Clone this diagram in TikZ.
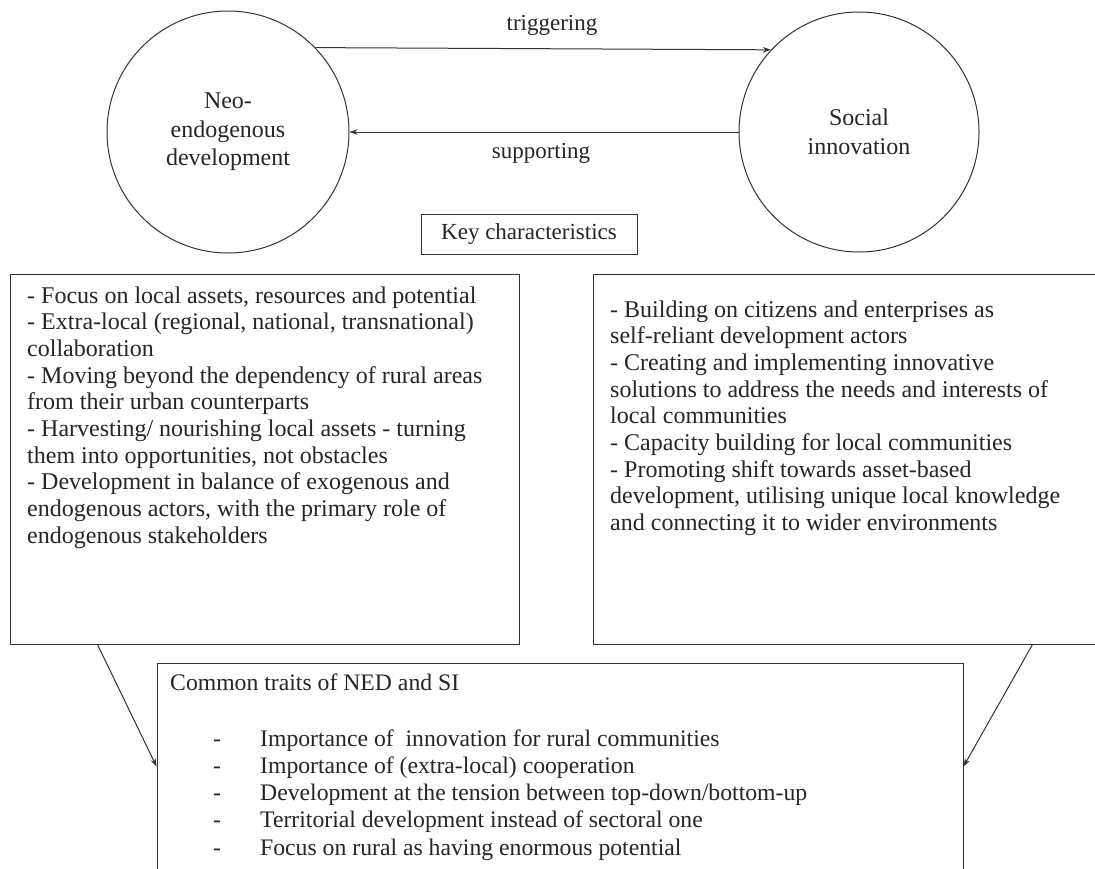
\documentclass[tikz,border=0pt]{standalone}
\usepackage{fontspec}
\setmainfont{Liberation Serif}
\usetikzlibrary{arrows.meta}
\newcommand{\blocktext}[4]{\parbox[t]{#1}{\fontsize{#2}{#3}\selectfont\raggedright #4}}
\begin{document}
\begin{tikzpicture}[x=1pt,y=-1pt,
  every node/.style={text=black!85},
  ln/.style={draw=black!80, line width=1pt},
  arr/.style={ln, -{Stealth[length=8pt,width=5.5pt]}},
  bubble/.style={ln, circle, inner sep=0pt, align=center, font=\fontsize{24pt}{28.5pt}\selectfont},
  panel/.style={ln, rectangle, inner sep=0pt},
  lbl/.style={inner sep=0pt, font=\fontsize{23pt}{26pt}\selectfont},
  txt/.style={inner sep=0pt, anchor=base west}]
\useasboundingbox (0,0) rectangle (1095,868);
\clip (0,0) rectangle (1095,868);
\fill[white] (0,0) rectangle (1095,868);

\node[bubble, minimum size=242pt] (ned) at (228,132) {Neo-\\endogenous\\development};
\node[bubble, minimum size=240pt] (si) at (859,132) {Social\\innovation};

\draw[arr] (ned.44) -- (si.137.5);
\draw[arr] (si.180) -- (ned.0);
\node[lbl] (trig) at (552,25) {triggering};
\node[lbl] (supp) at (541,153) {supporting};

\node[panel, minimum width=216pt, minimum height=40pt, font=\fontsize{23pt}{26pt}\selectfont] (key) at (529,234) {Key characteristics};

\node[panel, minimum width=509pt, minimum height=370pt] (lbox) at (264.5,459) {};
\node[panel, minimum width=520pt, minimum height=370pt] (rbox) at (853,459) {};
\node[panel, minimum width=806pt, minimum height=260pt] (cbox) at (560,793) {};

\node[txt] (ltext) at (27,303) {\blocktext{490pt}{24pt}{26.7pt}{%
- Focus on local assets, resources and potential\\
- Extra-local (regional, national, transnational)\\
collaboration\\
- Moving beyond the dependency of rural areas\\
from their urban counterparts\\
- Harvesting/ nourishing local assets - turning\\
them into opportunities, not obstacles\\
- Development in balance of exogenous and\\
endogenous actors, with the primary role of\\
endogenous stakeholders}};

\node[txt] (rtext) at (610,317) {\blocktext{480pt}{24pt}{26.7pt}{%
- Building on citizens and enterprises as\\
self-reliant development actors\\
- Creating and implementing innovative\\
solutions to address the needs and interests of\\
local communities\\
- Capacity building for local communities\\
- Promoting shift towards asset-based\\
development, utilising unique local knowledge\\
and connecting it to wider environments}};

\node[txt] (ctitle) at (170,690) {\blocktext{600pt}{23.7pt}{26.7pt}{Common traits of NED and SI}};
\node[txt] (ctext) at (213,746) {\blocktext{740pt}{23.7pt}{27.3pt}{%
\makebox[47pt][l]{-}Importance of\ \ innovation for rural communities\\
\makebox[47pt][l]{-}Importance of (extra-local) cooperation\\
\makebox[47pt][l]{-}Development at the tension between top-down/bottom-up\\
\makebox[47pt][l]{-}Territorial development instead of sectoral one\\
\makebox[47pt][l]{-}Focus on rural as having enormous potential}};

\draw[arr] ([xshift=88pt]lbox.south west) -- ([yshift=-104pt]cbox.north west);
\draw[arr] ([xshift=440pt]rbox.south west) -- ([yshift=-104pt]cbox.north east);
\end{tikzpicture}
\end{document}
